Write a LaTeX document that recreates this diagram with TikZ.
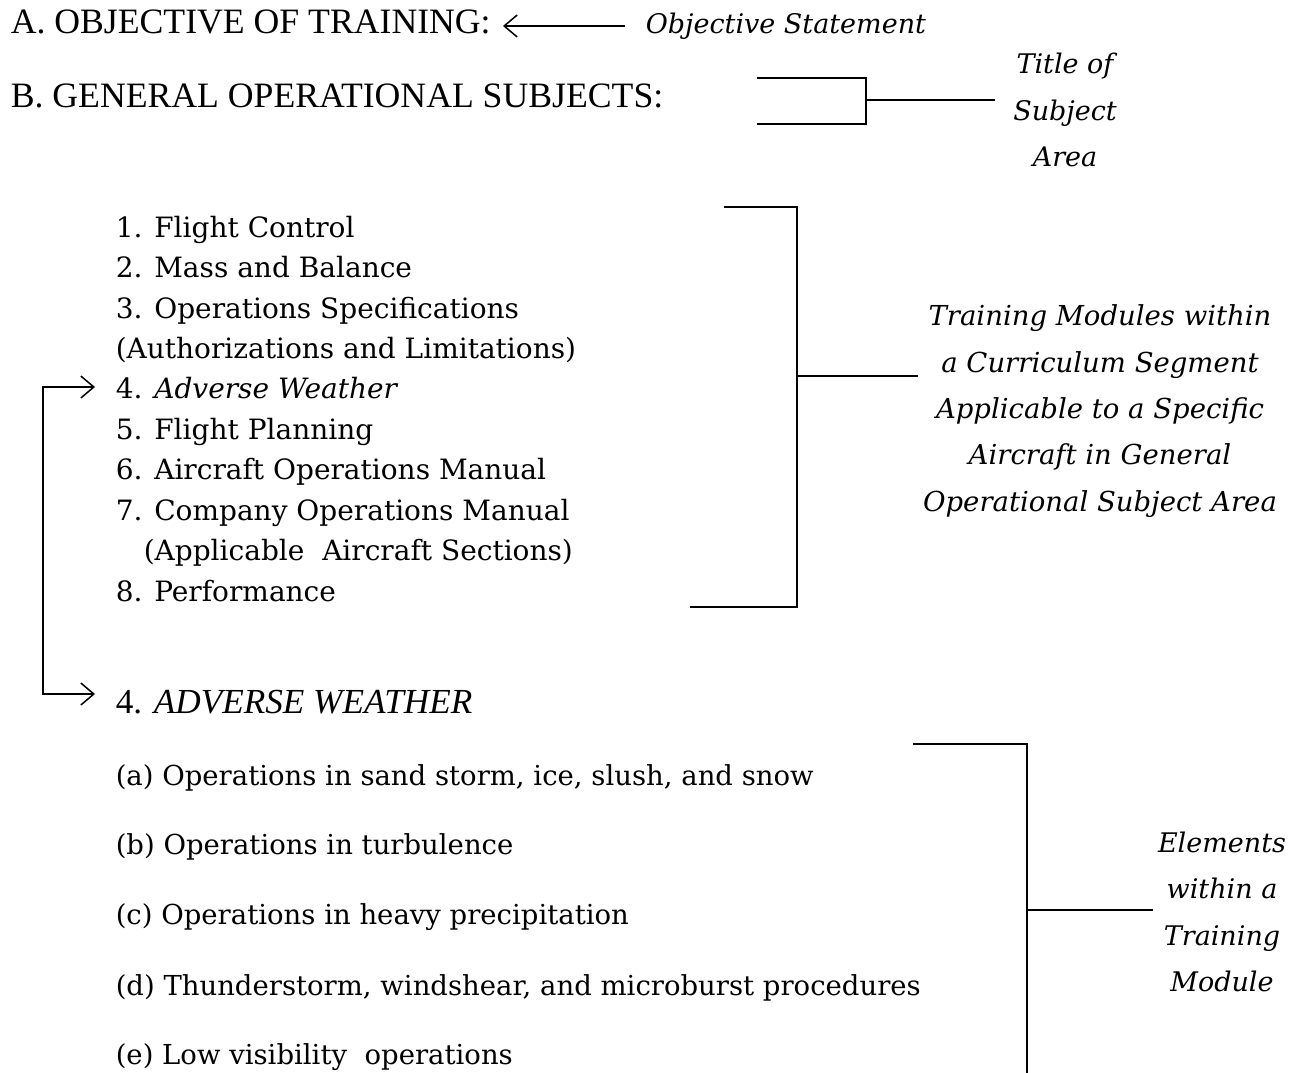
\documentclass[tikz,border=0pt]{standalone}
\usepackage{fontspec}
\setmainfont{Liberation Serif}
\newfontfamily\listfont{DejaVu Serif}
\usetikzlibrary{arrows.meta}
\begin{document}
\begin{tikzpicture}[x=1pt,y=-1pt,
  line width=1.5pt,
  head/.style={anchor=base west, inner sep=0pt, font=\fontsize{35.7}{40}\selectfont},
  item/.style={anchor=base west, inner sep=0pt, font=\listfont\fontsize{28}{32}\selectfont},
  elem/.style={item, font=\listfont\fontsize{27.5}{32}\selectfont},
  note/.style={inner sep=0pt, align=center, font=\listfont\itshape\fontsize{27}{46.5}\selectfont},
  tipend/.style={-{Straight Barb[length=13pt,width=22pt,line width=1.5pt]}},
  tipboth/.style={{Straight Barb[length=13pt,width=22pt,line width=1.5pt]}-{Straight Barb[length=13pt,width=22pt,line width=1.5pt]}},
  brk/.style={line width=1.6pt, line join=miter}]
\useasboundingbox (0,0) rectangle (1290,1072);

% headings
\node[head] (headA) at (10,33) {A. OBJECTIVE OF TRAINING:};
\node[head] (headB) at (10,107) {B. GENERAL OPERATIONAL SUBJECTS:};
\node[anchor=base west, inner sep=0pt, font=\listfont\itshape\fontsize{27}{32}\selectfont]
  (objst) at (645,33) {Objective Statement};

% subject list
\node[item] (i1) at (115,237) {1. Flight Control};
\node[item] (i2) at (115,277) {2. Mass and Balance};
\node[item] (i3) at (115,318) {3. Operations Specifications};
\node[item] (i3b) at (115,358) {(Authorizations and Limitations)};
\node[item] (i4) at (115,398) {4. \textit{Adverse Weather}};
\node[item] (i5) at (115,439) {5. Flight Planning};
\node[item] (i6) at (115,479) {6. Aircraft Operations Manual};
\node[item] (i7) at (115,520) {7. Company Operations Manual};
\node[item] (i7b) at (143,560) {(Applicable\ \ Aircraft Sections)};
\node[item] (i8) at (115,601) {8. Performance};

% module heading and its elements
\node[head, font=\fontsize{35.2}{40}\selectfont] (adv) at (115,713) {4. \textit{ADVERSE WEATHER}};
\node[elem] (ea) at (115,785) {(a) Operations in sand storm, ice, slush, and snow};
\node[elem] (eb) at (115,854) {(b) Operations in turbulence};
\node[elem] (ec) at (115,924) {(c) Operations in heavy precipitation};
\node[elem] (ed) at (115,995) {(d) Thunderstorm, windshear, and microburst procedures};
\node[elem] (ee) at (115,1064) {(e) Low visibility\ \ operations};

% side notes
\node[note] (title) at (1065,110) {Title of\\Subject\\Area};
\node[note, font=\listfont\itshape\fontsize{27.5}{46.3}\selectfont] (modules) at (1100,411)
  {Training Modules within\\a Curriculum Segment\\Applicable to a Specific\\Aircraft in General\\Operational Subject Area};
\node[note] (elements) at (1222,912) {Elements\\within a\\Training\\Module};

% objective arrow
\coordinate (objS) at (625,26);
\coordinate (objE) at (503,26);
\draw[tipend] (objS) -- (objE);

% bracket for the subject area title
\coordinate (bT) at (757,78);
\coordinate (bB) at (757,124);
\coordinate (bX) at (866,100);
\coordinate (bN) at (995,100);
\draw[brk] (bT) -- (bT -| bX) -- (bB -| bX) -- (bB);
\draw[brk] (bX) -- (bN);

% bracket for the training modules
\coordinate (mT) at (724,207);
\coordinate (mB) at (690,607);
\coordinate (mX) at (797,376);
\coordinate (mN) at (918,376);
\draw[brk] (mT) -- (mT -| mX) -- (mB -| mX) -- (mB);
\draw[brk] (mX) -- (mN);

% bracket for the module elements
\coordinate (eT) at (913,744);
\coordinate (eB) at (1027,1080);
\coordinate (eX) at (1027,910);
\coordinate (eN) at (1153,910);
\draw[brk] (eT) -- (eT -| eB) -- (eB);
\draw[brk] (eX) -- (eN);

% link from list item 4 to its module
\coordinate (lk1) at (95,387);
\coordinate (lk2) at (95,694);
\coordinate (lkX) at (43,0);
\draw[tipboth] (lk1) -- (lk1 -| lkX) -- (lk2 -| lkX) -- (lk2);
\end{tikzpicture}
\end{document}
